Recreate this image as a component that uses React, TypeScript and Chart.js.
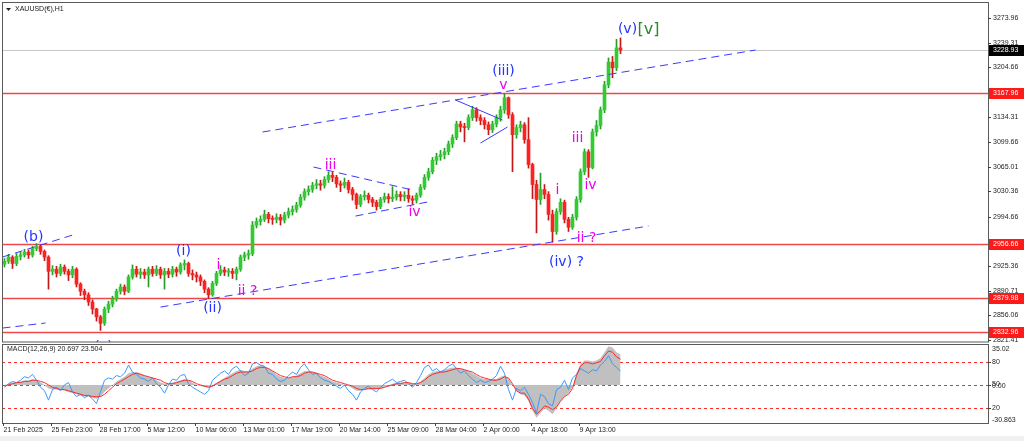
import React, { useEffect, useRef } from "react";
import { Chart, registerables } from "chart.js";

Chart.register(...registerables);

// ---------- DATA ----------
const symbolTitle = "XAUUSD(€),H1";
const firstOpen = 2928;

const closes = [
  2932, 2938, 2929, 2939, 2941, 2945, 2941, 2950, 2953, 2946,
  2938, 2918, 2921, 2915, 2924, 2918, 2913, 2921, 2900, 2890,
  2885, 2875, 2865, 2854, 2845, 2865, 2872, 2879, 2890, 2896,
  2890, 2910, 2921, 2914, 2917, 2913, 2921, 2915, 2921, 2913,
  2918, 2914, 2921, 2917, 2927, 2929, 2915, 2913, 2910, 2904,
  2893, 2885, 2901, 2915, 2920, 2917, 2918, 2915, 2921, 2938,
  2941, 2943, 2983, 2988, 2991, 2998, 2992, 2991, 2994, 2990,
  2997, 3002, 3005, 3011, 3022, 3030, 3033, 3039, 3041, 3039,
  3047, 3053, 3050, 3041, 3039, 3043, 3033, 3026, 3012, 3023,
  3025, 3019, 3015, 3009, 3019, 3023, 3020, 3022, 3026, 3023,
  3025, 3020, 3018, 3025, 3036, 3050, 3058, 3074, 3079, 3082,
  3086, 3097, 3106, 3125, 3121, 3120, 3134, 3145, 3134, 3130,
  3124, 3117, 3125, 3134, 3145, 3162, 3138, 3110, 3120, 3124,
  3103, 3068, 3040, 3019, 3033, 3026, 2998, 2974, 3002, 3015,
  2991, 2980, 2994, 3019, 3058, 3086, 3064, 3114, 3123, 3145,
  3180, 3212, 3204, 3232, 3229,
];

const highs = [
  2936, 2942, 2940, 2943, 2945, 2949, 2948, 2953, 2957, 2955,
  2948, 2940, 2926, 2925, 2928, 2927, 2921, 2925, 2923, 2902,
  2893, 2888, 2878, 2866, 2856, 2868, 2876, 2883, 2893, 2900,
  2899, 2913, 2927, 2925, 2922, 2921, 2924, 2925, 2926, 2924,
  2922, 2922, 2925, 2924, 2930, 2934, 2931, 2920, 2917, 2913,
  2906, 2895, 2904, 2918, 2926, 2924, 2922, 2922, 2924, 2941,
  2945, 2948, 2988, 2993, 2996, 3004, 3001, 2996, 2999, 2998,
  3001, 3007, 3010, 3015, 3026, 3034, 3038, 3043, 3047, 3046,
  3051, 3058, 3057, 3053, 3045, 3049, 3046, 3036, 3028, 3026,
  3031, 3028, 3022, 3018, 3022, 3028, 3027, 3037, 3031, 3030,
  3030, 3034, 3024, 3028, 3040, 3054, 3063, 3078, 3084, 3088,
  3091, 3101, 3110, 3129, 3129, 3126, 3138, 3150, 3148, 3138,
  3134, 3128, 3129, 3138, 3150, 3168, 3163, 3141, 3124, 3129,
  3127, 3134, 3070, 3046, 3056, 3040, 3030, 3004, 3006, 3020,
  3018, 2994, 2998, 3023, 3062, 3090, 3089, 3118, 3130, 3149,
  3185, 3218, 3220, 3244, 3246,
];

const lows = [
  2924, 2929, 2922, 2926, 2934, 2938, 2936, 2938, 2947, 2942,
  2933, 2893, 2913, 2910, 2912, 2914, 2905, 2909, 2896, 2884,
  2878, 2870, 2858, 2848, 2835, 2842, 2860, 2868, 2876, 2886,
  2885, 2888, 2907, 2910, 2908, 2908, 2896, 2911, 2912, 2908,
  2893, 2909, 2910, 2911, 2914, 2920, 2911, 2906, 2903, 2898,
  2888, 2880, 2883, 2898, 2912, 2912, 2911, 2908, 2906, 2918,
  2933, 2935, 2940, 2979, 2983, 2988, 2986, 2984, 2986, 2983,
  2986, 2993, 2997, 3001, 3008, 3018, 3025, 3029, 3034, 3032,
  3035, 3043, 3044, 3036, 3030, 3035, 3028, 3018, 3006, 3009,
  3018, 3014, 3009, 3004, 3006, 3015, 3014, 3016, 3018, 3017,
  3017, 3015, 3012, 3014, 3022, 3033, 3046, 3055, 3068, 3074,
  3076, 3082, 3092, 3103, 3114, 3100, 3117, 3130, 3129, 3124,
  3118, 3110, 3113, 3121, 3129, 3140, 3133, 3058, 3105, 3114,
  3098, 3063, 3020, 2972, 3012, 3020, 2990, 2959, 2970, 2998,
  2986, 2974, 2977, 2990, 3015, 3054, 3050, 3062, 3108, 3118,
  3141, 3176, 3190, 3200, 3224,
];

const macdBlue = [
  -2, 1, 3, 2, 4, 7, 6, 9, 4, -2,
  -5, -13, -4, -2, -5, 0, 2, -6, -10, -8,
  -11, -9, -12, -16, -6, 4, 6, 5, 8, 7,
  10, 17, 11, 9, 6, 5, 3, 6, 1, -2,
  -7, 0, 5, 4, 8, 9, 1, -2, -4, -6,
  -8, -5, 4, 7, 10, 12, 9, 14, 16, 12,
  8, 10, 18, 19, 17, 16, 10, 9, 5, 3,
  4, 8, 11, 9, 15, 18, 13, 9, 10, 6,
  4, 3, 1, -1, -3, 0, -5, -8, -13, -6,
  -3, -1, -4, -6, -2, 1, 3, 5, 2, 3,
  4, 1, -2, 2, 8, 15, 17, 12, 14, 11,
  13, 16, 18, 14, 10, 12, 8, 5, 2, 4,
  2, 3, 5, 8, 16, 10, -4, -13, -3, -5,
  -2, -8, -15, -24, -8, -10, -16, -18, -4, -2,
  4, -4, 6, 9, 14, 12, 10, 13, 12, 17,
  20, 25, 18, 15, 12,
];

const macdSignal = [
  -1, 0, 1, 2, 2, 3, 3, 4, 4, 3,
  2, 0, -2, -3, -4, -4, -5, -6, -7, -8,
  -9, -9, -10, -10, -10, -8, -5, -2, 1, 3,
  5, 7, 9, 10, 9, 8, 7, 6, 5, 4,
  2, 1, 1, 2, 3, 4, 4, 3, 1, 0,
  -1, -2, -1, 1, 3, 5, 6, 8, 10, 11,
  11, 11, 12, 14, 15, 15, 14, 12, 10, 8,
  7, 6, 7, 7, 8, 10, 11, 11, 10, 9,
  8, 6, 4, 3, 2, 1, 0, -1, -3, -4,
  -4, -3, -3, -3, -3, -2, -1, 0, 1, 1,
  2, 2, 1, 1, 2, 4, 7, 9, 10, 11,
  11, 12, 13, 14, 14, 13, 12, 11, 9, 7,
  6, 5, 4, 4, 5, 7, 6, 1, -5, -7,
  -7, -12, -20, -25, -22, -18, -19, -21, -19, -14,
  -10, -8, -3, 8, 16, 19, 19, 18, 19, 20,
  25, 29, 28, 24, 22,
];

const macdHist = [
  0, 1, 2, 2, 3, 4, 4, 5, 4, 2,
  0, -3, -4, -4, -4, -5, -6, -7, -8, -9,
  -10, -10, -11, -12, -10, -6, -3, 0, 3, 5,
  7, 10, 11, 11, 10, 8, 7, 6, 4, 2,
  1, 1, 2, 3, 4, 5, 4, 2, 0, -1,
  -2, -2, 0, 2, 4, 6, 8, 10, 12, 13,
  12, 12, 14, 16, 17, 16, 14, 12, 9, 7,
  6, 6, 7, 8, 10, 12, 12, 11, 10, 8,
  7, 5, 3, 2, 1, 0, -1, -3, -5, -5,
  -4, -4, -4, -4, -3, -2, 0, 1, 2, 2,
  2, 2, 1, 1, 3, 6, 9, 11, 12, 12,
  13, 14, 15, 15, 14, 13, 12, 10, 8, 6,
  5, 5, 5, 5, 7, 8, 5, 0, -5, -8,
  -9, -14, -22, -28, -24, -20, -22, -25, -20, -14,
  -10, -7, -2, 10, 18, 21, 21, 20, 21, 23,
  28, 33, 32, 28, 26,
];

const macdTitle = "MACD(12,26,9) 20.697 23.504";
const macdLevels = [20, 0, -20];
const macdLevelLabels = ["80", "50", "20"];
const macdMax = 35.02;
const macdMin = -30.863;

const timeLabels = [
  "21 Feb 2025", "25 Feb 23:00", "28 Feb 17:00", "5 Mar 12:00", "10 Mar 06:00",
  "13 Mar 01:00", "17 Mar 19:00", "20 Mar 14:00", "25 Mar 09:00", "28 Mar 04:00",
  "2 Apr 00:00", "4 Apr 18:00", "9 Apr 13:00",
];
const timeLabelIdx = [0, 12, 24, 36, 48, 60, 72, 84, 96, 108, 120, 132, 144];

const priceTicks = [
  3273.96, 3239.31, 3204.66, 3134.31, 3099.66, 3065.01, 3030.36, 2994.66,
  2925.36, 2890.71, 2856.06, 2821.41,
];
const levelPrices = [3167.96, 2956.66, 2879.98, 2832.96];
const currentPrice = 3228.93;

// Elliott-wave annotations in data coordinates (bar index, price)
const waveLabels = [
  { text: "(b)", idx: 7.25, price: 2966, kind: "major" },
  { text: "(c)", idx: 24.75, price: 2811, kind: "major" },
  { text: "(i)", idx: 44.75, price: 2946, kind: "major" },
  { text: "(ii)", idx: 52, price: 2866, kind: "major" },
  { text: "i", idx: 53.5, price: 2927, kind: "minor" },
  { text: "ii ?", idx: 60.75, price: 2890, kind: "minor" },
  { text: "iii", idx: 81.5, price: 3067, kind: "minor" },
  { text: "iv", idx: 102.5, price: 3001, kind: "minor" },
  { text: "(iii)", idx: 124.75, price: 3199, kind: "major" },
  { text: "v", idx: 124.75, price: 3180, kind: "minor" },
  { text: "i", idx: 138.25, price: 3032, kind: "minor" },
  { text: "iii", idx: 143.25, price: 3105, kind: "minor" },
  { text: "iv", idx: 146.5, price: 3039, kind: "minor" },
  { text: "ii ?", idx: 145.5, price: 2965, kind: "minor" },
  { text: "(iv) ?", idx: 140.5, price: 2930, kind: "major" },
  { text: "(v)", idx: 155.75, price: 3258, kind: "major" },
  { text: "[v]", idx: 161, price: 3258, kind: "degree" },
];

const trendLines = [
  { x1: 64.5, p1: 3113.8, x2: 187.75, p2: 3229.0, dashed: true },
  { x1: -0.5, p1: 2938.1, x2: 17, p2: 2969.0, dashed: true },
  { x1: 39, p1: 2867.8, x2: 161, p2: 2981.7, dashed: true },
  { x1: -0.5, p1: 2838.3, x2: 10.25, p2: 2845.4, dashed: true },
  { x1: 77.25, p1: 3064.6, x2: 102, p2: 3032.3, dashed: true },
  { x1: 87.75, p1: 2995.7, x2: 105.75, p2: 3015.4, dashed: true },
  { x1: 112.75, p1: 3158.8, x2: 124.5, p2: 3130.6, dashed: false },
  { x1: 119, p1: 3098.3, x2: 125.75, p2: 3120.8, dashed: false },
];

// ---------- LAYOUT / STYLE ----------
const W = 1024;
const MAIN_H = 343;
const MACD_H = 98;
const X_MIN = -0.625;
const X_MAX = 245.875;
const PRICE_MIN = 2818.7;
const PRICE_MAX = 3295.1;
const SMALL_FONT = '7px "Liberation Sans", Arial, sans-serif';
const TEXT_COLOR = "#1e1e1e";
const FRAME_COLOR = "#5a5a5a";
const LABEL_STYLE: any = {
  major: { color: "#2233ff", font: '14px "DejaVu Sans", Verdana, sans-serif' },
  minor: { color: "#ee00ee", font: '14px "DejaVu Sans", Verdana, sans-serif' },
  degree: { color: "#2a8a2a", font: '16px "DejaVu Sans", Verdana, sans-serif' },
};

const opens = closes.map((_, i) => (i === 0 ? firstOpen : closes[i - 1]));

const mainPlugin = {
  id: "mainDecor",
  beforeDatasetsDraw(chart: any) {
    const { ctx, chartArea: a, scales } = chart;
    const y = scales.y;
    ctx.save();
    ctx.lineWidth = 1;
    ctx.strokeStyle = "#c8c8c8";
    const cp = Math.round(y.getPixelForValue(currentPrice)) + 0.5;
    ctx.beginPath();
    ctx.moveTo(a.left, cp);
    ctx.lineTo(a.right, cp);
    ctx.stroke();
    ctx.strokeStyle = "#f04848";
    ctx.lineWidth = 1.5;
    levelPrices.forEach((v) => {
      const py = Math.round(y.getPixelForValue(v)) + 0.5;
      ctx.beginPath();
      ctx.moveTo(a.left, py);
      ctx.lineTo(a.right, py);
      ctx.stroke();
    });
    ctx.restore();
  },
  afterDatasetsDraw(chart: any) {
    const { ctx, chartArea: a, scales } = chart;
    const x = scales.x;
    const y = scales.y;
    ctx.save();
    ctx.beginPath();
    ctx.rect(a.left, a.top, a.right - a.left, a.bottom - a.top);
    ctx.clip();
    ctx.strokeStyle = "#3a3aff";
    ctx.lineWidth = 1;
    trendLines.forEach((t) => {
      ctx.setLineDash(t.dashed ? [8, 5] : []);
      ctx.beginPath();
      ctx.moveTo(x.getPixelForValue(t.x1), y.getPixelForValue(t.p1));
      ctx.lineTo(x.getPixelForValue(t.x2), y.getPixelForValue(t.p2));
      ctx.stroke();
    });
    ctx.setLineDash([]);
    ctx.textAlign = "center";
    ctx.textBaseline = "middle";
    waveLabels.forEach((l) => {
      const st = LABEL_STYLE[l.kind];
      ctx.fillStyle = st.color;
      ctx.font = st.font;
      ctx.fillText(l.text, x.getPixelForValue(l.idx), y.getPixelForValue(l.price));
    });
    ctx.restore();
  },
  afterDraw(chart: any) {
    const { ctx, chartArea: a, scales } = chart;
    const y = scales.y;
    ctx.save();
    ctx.strokeStyle = FRAME_COLOR;
    ctx.lineWidth = 1;
    ctx.strokeRect(a.left + 0.5, a.top - 0.5, a.right - a.left, a.bottom - a.top + 0.5);
    ctx.fillStyle = "#202020";
    ctx.beginPath();
    ctx.moveTo(6, 8);
    ctx.lineTo(11, 8);
    ctx.lineTo(8.5, 11);
    ctx.closePath();
    ctx.fill();
    ctx.font = SMALL_FONT;
    ctx.textAlign = "left";
    ctx.textBaseline = "middle";
    ctx.fillText(symbolTitle, 15, 9.5);
    priceTicks.forEach((v) => {
      const py = Math.round(y.getPixelForValue(v)) + 0.5;
      ctx.strokeStyle = "#404040";
      ctx.beginPath();
      ctx.moveTo(a.right, py);
      ctx.lineTo(a.right + 3, py);
      ctx.stroke();
      ctx.fillStyle = TEXT_COLOR;
      ctx.fillText(v.toFixed(2), a.right + 5, py);
    });
    const box = (v: number, bg: string) => {
      const py = Math.round(y.getPixelForValue(v));
      ctx.fillStyle = bg;
      ctx.fillRect(a.right + 1, py - 5, 35, 11);
      ctx.fillStyle = "#ffffff";
      ctx.fillText(v.toFixed(2), a.right + 5, py + 0.5);
    };
    levelPrices.forEach((v) => box(v, "#ff1a1a"));
    box(currentPrice, "#000000");
    ctx.restore();
  },
};

const macdPlugin = {
  id: "macdDecor",
  beforeDatasetsDraw(chart: any) {
    const { ctx, chartArea: a, scales } = chart;
    const y = scales.y;
    ctx.save();
    ctx.strokeStyle = "#ff2a2a";
    ctx.lineWidth = 1;
    ctx.setLineDash([3, 3]);
    macdLevels.forEach((v) => {
      const py = Math.round(y.getPixelForValue(v)) + 0.5;
      ctx.beginPath();
      ctx.moveTo(a.left, py);
      ctx.lineTo(a.right, py);
      ctx.stroke();
    });
    ctx.restore();
  },
  afterDraw(chart: any) {
    const { ctx, chartArea: a, scales } = chart;
    const x = scales.x;
    const y = scales.y;
    ctx.save();
    ctx.strokeStyle = FRAME_COLOR;
    ctx.lineWidth = 1;
    ctx.strokeRect(a.left + 0.5, a.top + 0.5, a.right - a.left, a.bottom - a.top + 2);
    ctx.font = SMALL_FONT;
    ctx.textBaseline = "middle";
    ctx.textAlign = "left";
    ctx.fillStyle = TEXT_COLOR;
    ctx.fillText(macdTitle, 7, a.top + 5.5);
    ctx.fillText(macdMax.toFixed(2), a.right + 4, a.top + 5);
    ctx.fillText(macdMin.toFixed(3), a.right + 4, a.bottom - 1);
    macdLevels.forEach((v, i) => {
      const py = Math.round(y.getPixelForValue(v));
      ctx.fillText(macdLevelLabels[i], a.right + 4, py - (v === 0 ? 1 : 0));
      ctx.strokeStyle = "#404040";
      ctx.beginPath();
      ctx.moveTo(a.right, py + 0.5);
      ctx.lineTo(a.right + 3, py + 0.5);
      ctx.stroke();
    });
    ctx.fillText((0).toFixed(2), a.right + 4, Math.round(y.getPixelForValue(0)) + 1);
    const baseY = a.bottom + 2;
    timeLabels.forEach((t, i) => {
      const px = Math.round(x.getPixelForValue(timeLabelIdx[i])) - 1.5;
      ctx.strokeStyle = "#404040";
      ctx.beginPath();
      ctx.moveTo(px, baseY);
      ctx.lineTo(px, baseY + 3);
      ctx.stroke();
      ctx.fillStyle = TEXT_COLOR;
      ctx.fillText(t, px, baseY + 7.5);
    });
    ctx.fillStyle = "#f0f0f0";
    ctx.fillRect(0, chart.height - 5, chart.width, 5);
    ctx.restore();
  },
};

export default function App() {
  const mainRef = useRef<HTMLCanvasElement | null>(null);
  const macdRef = useRef<HTMLCanvasElement | null>(null);

  useEffect(() => {
    const up = closes.map((c, i) => c >= opens[i]);
    const bodyColors = up.map((u) => (u ? "#30cc30" : "#ff2020"));
    const wickColors = up.map((u) => (u ? "#2a9a2a" : "#c41818"));

    const main = new Chart(mainRef.current as HTMLCanvasElement, {
      type: "bar",
      data: {
        datasets: [
          {
            label: "body",
            data: closes.map((c, i) => ({ x: i, y: [opens[i], c] })) as any,
            backgroundColor: bodyColors,
            borderWidth: 0,
            barThickness: 3,
            minBarLength: 1,
            grouped: false,
            order: 1,
          } as any,
          {
            label: "wick",
            data: closes.map((_, i) => ({ x: i, y: [lows[i], highs[i]] })) as any,
            backgroundColor: wickColors,
            borderWidth: 0,
            barThickness: 1,
            grouped: false,
            order: 2,
          } as any,
        ],
      },
      options: {
        animation: false,
        responsive: false,
        devicePixelRatio: 1,
        events: [],
        layout: { padding: { left: 2, right: 36, top: 3, bottom: 1 } },
        plugins: { legend: { display: false }, tooltip: { enabled: false } },
        scales: {
          x: { type: "linear", min: X_MIN, max: X_MAX, display: false, offset: false },
          y: { type: "linear", min: PRICE_MIN, max: PRICE_MAX, display: false },
        },
      } as any,
      plugins: [mainPlugin],
    });

    const pts = (arr: number[]) => arr.map((v, i) => ({ x: i, y: v }));
    const macd = new Chart(macdRef.current as HTMLCanvasElement, {
      type: "line",
      data: {
        datasets: [
          {
            label: "signal",
            data: pts(macdSignal) as any,
            borderColor: "#ff2a2a",
            borderWidth: 1,
            pointRadius: 0,
            fill: false,
            order: 1,
          },
          {
            label: "main",
            data: pts(macdBlue) as any,
            borderColor: "#3a98ff",
            borderWidth: 1,
            pointRadius: 0,
            fill: false,
            order: 2,
          },
          {
            label: "hist",
            data: pts(macdHist) as any,
            borderColor: "rgba(0,0,0,0)",
            borderWidth: 0,
            backgroundColor: "#c0c0c0",
            pointRadius: 0,
            fill: "origin",
            order: 3,
          },
        ],
      },
      options: {
        animation: false,
        responsive: false,
        devicePixelRatio: 1,
        events: [],
        layout: { padding: { left: 2, right: 36, top: 1, bottom: 20 } },
        plugins: { legend: { display: false }, tooltip: { enabled: false } },
        scales: {
          x: { type: "linear", min: X_MIN, max: X_MAX, display: false },
          y: { type: "linear", min: macdMin, max: macdMax, display: false },
        },
      } as any,
      plugins: [macdPlugin],
    });

    return () => {
      main.destroy();
      macd.destroy();
    };
  }, []);

  return (
    <div
      style={{
        position: "fixed",
        left: 0,
        top: 0,
        width: W,
        height: MAIN_H + MACD_H,
        background: "#ffffff",
        overflow: "hidden",
      }}
    >
      <canvas
        ref={mainRef}
        width={W}
        height={MAIN_H}
        style={{ position: "absolute", left: 0, top: 0, display: "block" }}
      />
      <canvas
        ref={macdRef}
        width={W}
        height={MACD_H}
        style={{ position: "absolute", left: 0, top: MAIN_H, display: "block" }}
      />
    </div>
  );
}
